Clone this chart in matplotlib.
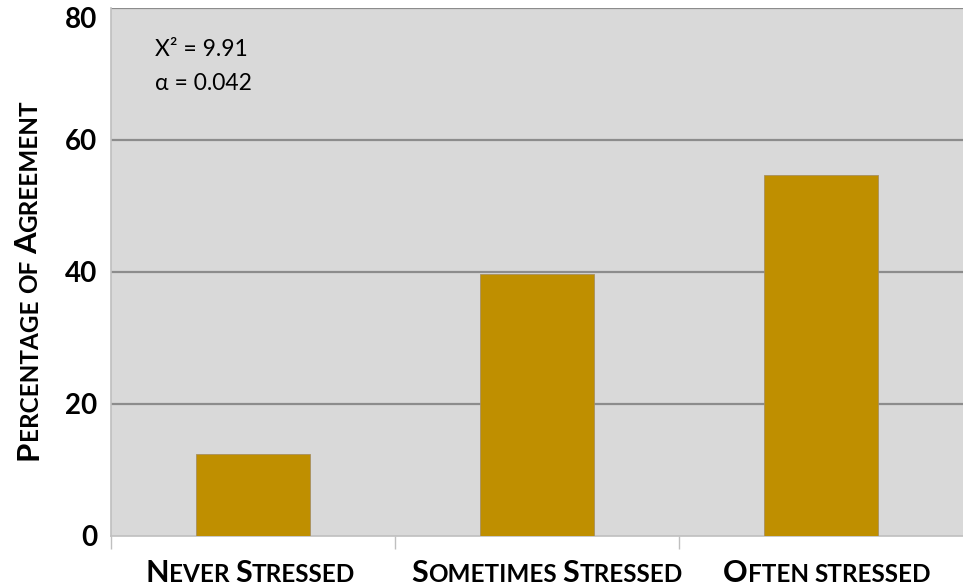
import matplotlib
matplotlib.use("Agg")
import matplotlib.pyplot as plt
from matplotlib.transforms import IdentityTransform

# ---- data ----
categories = ["Never Stressed", "Sometimes Stressed", "Often stressed"]
agreement = [12.4, 39.6, 54.6]
y_ticks = [0, 20, 40, 60, 80]
stat_lines = ["X\u00b2 = 9.91", "\u03b1 = 0.042"]

# small-caps pieces for labels: (text, capital?)
x_label_parts = [
    [("N", True), ("EVER", False), (" ", False), ("S", True), ("TRESSED", False)],
    [("S", True), ("OMETIMES", False), (" ", False), ("S", True), ("TRESSED", False)],
    [("O", True), ("FTEN", False), (" ", False), ("STRESSED", False)],
]
y_label_parts = [("P", True), ("ERCENTAGE", False), (" ", False), ("OF", False),
                 (" ", False), ("A", True), ("GREEMENT", False)]

FONT = ["Lato", "DejaVu Sans"]
BAR = "#BF8F00"
BG = "#D9D9D9"
GRID = "#8C8C8C"
SPINE = "#BFBFBF"

W, H = 963, 586
fig = plt.figure(figsize=(W / 100, H / 100), dpi=100)
ax = fig.add_axes([111 / W, 50 / H, 1 - 111 / W, (536 - 7.5) / H])
ax.set_facecolor(BG)

xs = list(range(len(categories)))
ax.bar(xs, agreement, width=0.4, color=BAR, edgecolor="#A89060", linewidth=0.6, zorder=3)

ax.set_xlim(-0.5, len(categories) - 0.5)
ax.set_ylim(0, 80)
ax.set_yticks(y_ticks)
ax.set_yticklabels([str(v) for v in y_ticks], fontsize=20, fontweight="bold",
                   family=FONT)
ax.tick_params(axis="y", length=0, pad=10)
# the top label sits below its gridline so it stays inside the figure
ax.get_yticklabels()[-1].set_verticalalignment("top")
for v in y_ticks[1:]:
    ax.axhline(v, color=GRID, lw=1.6, zorder=2)

ax.set_xticks([])
ax.set_xticks([x + 0.5 for x in xs[:-1]] + [-0.5], minor=True)
ax.tick_params(axis="x", which="minor", length=9, color=SPINE, width=1)

for side in ("top", "right"):
    ax.spines[side].set_visible(False)
for side in ("left", "bottom"):
    ax.spines[side].set_color(SPINE)
    ax.spines[side].set_linewidth(1.2)

ax.text(0.052, 0.92, stat_lines[0], transform=ax.transAxes,
        fontsize=16.5, family=FONT, va="center", ha="left")
ax.text(0.052, 0.857, stat_lines[1], transform=ax.transAxes,
        fontsize=16.5, family=FONT, va="center", ha="left")

renderer = fig.canvas.get_renderer()


def seg_width(s, size):
    def w(txt):
        t = fig.text(0, 0, txt, fontsize=size, fontweight="bold", family=FONT)
        e = t.get_window_extent(renderer).width
        t.remove()
        return e
    return w("|" + s + "|") - w("||")


def small_caps(parts, cx, cy, big, small, rotation=0):
    widths = [seg_width(s, big if b else small) for s, b in parts]
    total = sum(widths)
    pos = -total / 2
    for (s, b), wd in zip(parts, widths):
        if rotation == 0:
            x, y = cx + pos, cy
        else:
            x, y = cx, cy + pos
        fig.text(x, y, s, fontsize=big if b else small, fontweight="bold",
                 family=FONT, ha="left", va="baseline", rotation=rotation,
                 rotation_mode="anchor", transform=IdentityTransform())
        pos += wd


label_shift = [-3, 10, 6]
for i, parts in enumerate(x_label_parts):
    cx = ax.transData.transform((xs[i], 0))[0] + label_shift[i]
    small_caps(parts, cx, 4, 22, 17.5)

small_caps(y_label_parts, 37, H - 280, 22.5, 17.5, rotation=90)

fig.savefig("out.png", dpi=100)
